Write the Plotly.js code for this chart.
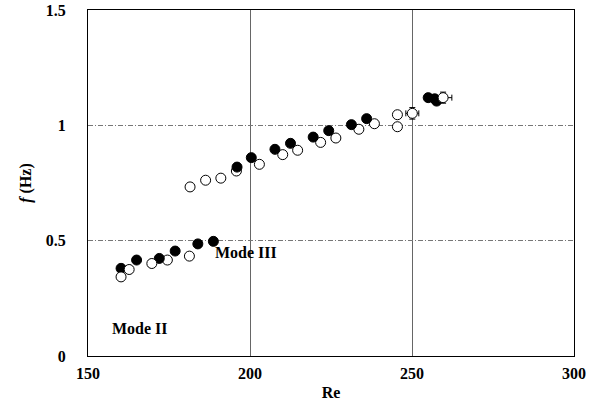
<!DOCTYPE html>
<html>
<head>
<meta charset="utf-8">
<script src="https://cdn.plot.ly/plotly-3.0.1.min.js"></script>
<style>html,body{margin:0;padding:0;background:#fff;}#chart{width:600px;height:409px;}</style>
</head>
<body>
<div id="chart"></div>
<script>
// Filled circles
var filledRe = [160.2,165.0,172.0,176.9,183.9,188.7,196.0,200.4,207.7,212.5,219.5,224.3,231.3,236.0,255.0,257.0,257.6];
var filledF  = [0.380,0.416,0.423,0.455,0.486,0.497,0.819,0.860,0.896,0.922,0.949,0.977,1.003,1.029,1.120,1.115,1.105];
// Open circles (no error bars)
var openRe = [174.5,181.3,181.5,186.3,191.0,195.8,202.9,210.1,214.7,221.8,226.5,233.6,238.4,245.5,245.5];
var openF  = [0.416,0.433,0.733,0.762,0.771,0.802,0.831,0.873,0.892,0.926,0.945,0.983,1.007,1.046,0.994];
// Open circles with error bars
var errRe  = [160.2,162.7,169.7,250.1,259.6];
var errF   = [0.343,0.375,0.401,1.052,1.120];
var errDRe = [1.0,1.0,1.0,2.0,2.7];
var errDF  = [0.015,0.015,0.015,0.025,0.024];
// Axis ticks
var xTicks = [150,200,250,300];
var yTicks = [0,0.5,1,1.5];
var yTickText = ['0','0.5','1','1.5'];

var serif = 'Liberation Serif, DejaVu Serif, serif';

var traces = [
  {x: openRe, y: openF, type: 'scatter', mode: 'markers',
   marker: {symbol: 'circle', size: 10, color: '#ffffff', line: {color: '#000', width: 1}}},
  {x: filledRe, y: filledF, type: 'scatter', mode: 'markers',
   marker: {symbol: 'circle', size: 10, color: '#000', line: {color: '#000', width: 1}}},
  {x: errRe, y: errF, type: 'scatter', mode: 'markers',
   marker: {symbol: 'circle', size: 10, color: '#ffffff', line: {color: '#000', width: 1}},
   error_x: {type: 'data', array: errDRe, visible: true, color: '#000', thickness: 1, width: 3},
   error_y: {type: 'data', array: errDF, visible: true, color: '#000', thickness: 1, width: 3}}
];

var layout = {
  width: 600, height: 409,
  margin: {l: 88, r: 26, t: 10, b: 53},
  paper_bgcolor: '#fff', plot_bgcolor: '#fff',
  showlegend: false,
  font: {family: serif, color: '#000'},
  xaxis: {
    range: [150, 300], tickvals: xTicks, ticktext: xTicks.map(String),
    showline: true, mirror: true, linecolor: '#000', linewidth: 1,
    showgrid: true, gridcolor: '#666', gridwidth: 1,
    zeroline: false, ticks: '', ticklabelstandoff: 3,
    tickfont: {family: serif, size: 16, color: '#000', weight: 'bold'},
    title: {text: 'Re', font: {family: serif, size: 16, color: '#000', weight: 'bold'}, standoff: 5}
  },
  yaxis: {
    range: [0, 1.5], tickvals: yTicks, ticktext: yTickText,
    showline: true, mirror: true, linecolor: '#000', linewidth: 1,
    showgrid: true, gridcolor: '#777', gridwidth: 1, griddash: '5px,2px,1px,2px',
    zeroline: false, ticks: '', ticklabelstandoff: 18,
    tickfont: {family: serif, size: 16, color: '#000', weight: 'bold'},
    title: {text: '<i>f</i> (Hz)', font: {family: serif, size: 16, color: '#000', weight: 'bold'}, standoff: 10}
  },
  annotations: [
    {x: 156.8, y: 0.12, xref: 'x', yref: 'y', text: 'Mode II', showarrow: false,
     xanchor: 'left', yanchor: 'middle', font: {family: serif, size: 16, color: '#000', weight: 'bold'}},
    {x: 188.6, y: 0.45, xref: 'x', yref: 'y', text: 'Mode III', showarrow: false,
     xanchor: 'left', yanchor: 'middle', font: {family: serif, size: 16, color: '#000', weight: 'bold'}}
  ]
};

Plotly.newPlot('chart', traces, layout, {displayModeBar: false, staticPlot: true});
</script>
</body>
</html>
